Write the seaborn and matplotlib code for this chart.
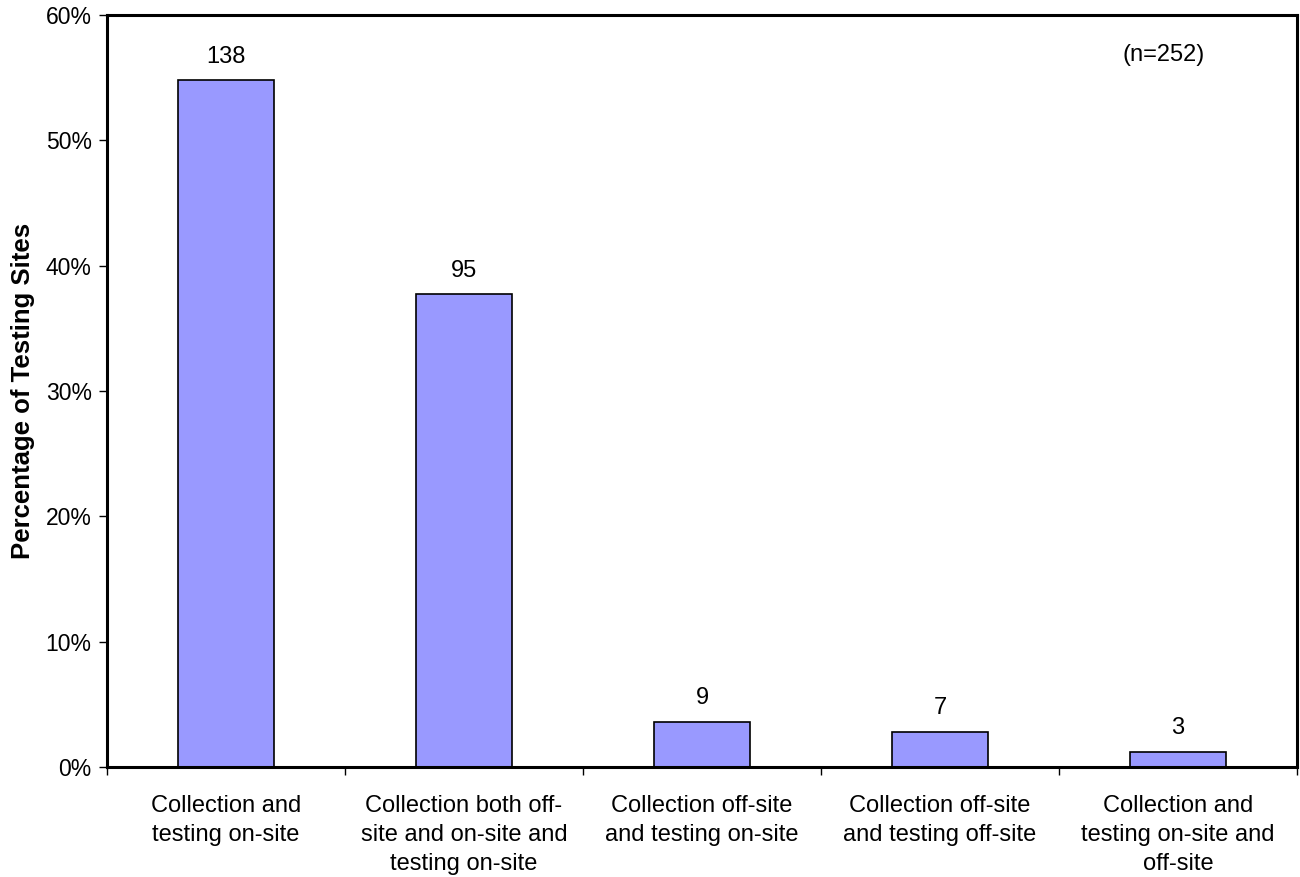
import pandas as pd
import matplotlib
matplotlib.use("Agg")
import matplotlib.pyplot as plt
import seaborn as sns
from matplotlib.ticker import PercentFormatter, FixedLocator

# Datos
categories = [
    "Collection and\ntesting on-site",
    "Collection both off-\nsite and on-site and\ntesting on-site",
    "Collection off-site\nand testing on-site",
    "Collection off-site\nand testing off-site",
    "Collection and\ntesting on-site and\noff-site",
]
counts = [138, 95, 9, 7, 3]
percentages = [54.8, 37.7, 3.6, 2.8, 1.2]
y_ticks = [0, 10, 20, 30, 40, 50, 60]

df = pd.DataFrame({"category": categories, "pct": percentages, "count": counts})

sns.set_theme(style="white")
plt.rcParams["font.family"] = ["Liberation Sans", "DejaVu Sans"]
plt.rcParams["text.color"] = "black"
plt.rcParams["xtick.color"] = "black"
plt.rcParams["ytick.color"] = "black"
plt.rcParams["axes.labelcolor"] = "black"

fig = plt.figure(figsize=(13, 8.77), dpi=100)
ax = fig.add_axes([107 / 1300, 1 - 767 / 877, 1190 / 1300, 752 / 877])

sns.barplot(data=df, x="category", y="pct", color="#9999FF", saturation=1,
            edgecolor="black", linewidth=1.2, width=0.4, ax=ax)

# Etiquetas de conteo sobre las barras
for i, (p, c) in enumerate(zip(percentages, counts)):
    ax.text(i, p + 1.0, str(c), ha="center", va="bottom", fontsize=17)

ax.text(0.888, 0.962, "(n=252)", transform=ax.transAxes, ha="center", va="top", fontsize=17)

ax.set_xlim(-0.5, len(categories) - 0.5)
ax.set_ylim(0, 60)
ax.set_yticks(y_ticks)
ax.yaxis.set_major_formatter(PercentFormatter(decimals=0))

# Ticks del eje x entre categorías, etiquetas centradas
ax.xaxis.set_major_locator(FixedLocator([i - 0.5 for i in range(len(categories) + 1)]))
ax.xaxis.set_minor_locator(FixedLocator(list(range(len(categories)))))
ax.xaxis.set_major_formatter(plt.NullFormatter())
ax.set_xticklabels(categories, minor=True)
ax.tick_params(axis="x", which="minor", length=0, labelsize=17, pad=20)
ax.tick_params(axis="x", which="major", length=6, width=1, direction="out", bottom=True)
ax.tick_params(axis="y", length=6, width=1, direction="out", left=True, labelsize=16.5, pad=5)
for lbl in ax.get_xticklabels(minor=True):
    lbl.set_linespacing(1.42)

ax.set_xlabel("")
ax.set_ylabel("Percentage of Testing Sites", fontsize=18.5, fontweight="bold", labelpad=8)

for s in ax.spines.values():
    s.set_visible(True)
    s.set_color("black")
    s.set_linewidth(2.2)

fig.savefig("out.png", dpi=100)
